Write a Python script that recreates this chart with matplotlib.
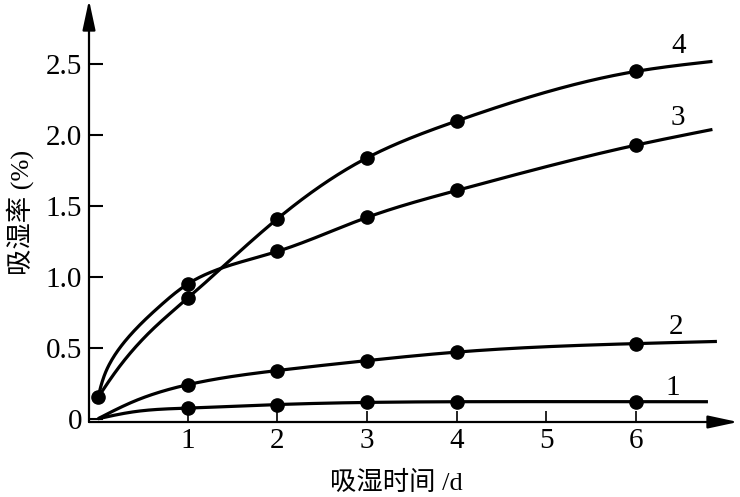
import numpy as np
import matplotlib
matplotlib.use("Agg")
import matplotlib.pyplot as plt
from matplotlib.patches import ArrowStyle

# ---------------- data ----------------
days = [1, 2, 3, 4, 6]
x_ticks = [1, 2, 3, 4, 5, 6]
y_ticks = [0, 0.5, 1.0, 1.5, 2.0, 2.5]
y_tick_labels = ["0", "0.5", "1.0", "1.5", "2.0", "2.5"]

start_t = 0.0
start_val_34 = 0.15          # common starting point of curves 3 and 4

c1 = [0.075, 0.10, 0.115, 0.12, 0.12]
c2 = [0.24, 0.34, 0.41, 0.47, 0.53]
c3 = [0.95, 1.18, 1.42, 1.61, 1.93]
c4 = [0.85, 1.41, 1.84, 2.10, 2.45]

# extra points read along the drawn (fitted) curves
c1_trace_t = [0.0, 0.41, 6.8]
c1_trace_v = [0.0, 0.05, 0.12]
c2_trace_t = [0.0, 0.41, 6.9]
c2_trace_v = [0.0, 0.125, 0.545]
c3_trace_t = [0.08, 0.36, 0.70, 6.85]
c3_trace_v = [0.32, 0.59, 0.80, 2.04]
c4_trace_t = [0.23, 0.60, 6.85]
c4_trace_v = [0.36, 0.625, 2.52]

curve_names = ["1", "2", "3", "4"]

x_label = "吸湿时间 /d"
y_label = "吸湿率 (%)"

XMIN, XMAX = -0.1, 7.135
YMIN, YMAX = -0.023, 2.953


# ---------------- helpers ----------------
def natural_spline(s, y, ss):
    s = np.asarray(s, float)
    y = np.asarray(y, float)
    n = len(s)
    h = np.diff(s)
    d = np.diff(y) / h
    A = np.zeros((n, n))
    r = np.zeros(n)
    A[0, 0] = A[-1, -1] = 1.0
    for i in range(1, n - 1):
        A[i, i - 1] = h[i - 1]
        A[i, i] = 2 * (h[i - 1] + h[i])
        A[i, i + 1] = h[i]
        r[i] = 6 * (d[i] - d[i - 1])
    M = np.linalg.solve(A, r)
    idx = np.clip(np.searchsorted(s, ss) - 1, 0, n - 2)
    a = s[idx + 1] - ss
    b = ss - s[idx]
    hi = h[idx]
    return (M[idx] * a**3 / (6 * hi) + M[idx + 1] * b**3 / (6 * hi)
            + (y[idx] / hi - M[idx] * hi / 6) * a
            + (y[idx + 1] / hi - M[idx + 1] * hi / 6) * b)


def smooth_curve(t, v, sx=89.7, sy=141.8, num=500):
    t = np.asarray(t, float)
    v = np.asarray(v, float)
    o = np.argsort(t)
    t, v = t[o], v[o]
    px, py = t * sx, v * sy
    chord = np.hypot(np.diff(px), np.diff(py))
    s = np.concatenate([[0], np.cumsum(chord)])
    ss = np.linspace(0, s[-1], num)
    return natural_spline(s, t, ss), natural_spline(s, v, ss)


# ---------------- figure ----------------
W, H = 740, 497
fig = plt.figure(figsize=(W / 100, H / 100), dpi=100)
ax = fig.add_axes([89 / W, 75 / H, 649 / W, 422 / H])
ax.set_xlim(XMIN, XMAX)
ax.set_ylim(YMIN, YMAX)
for s in ax.spines.values():
    s.set_visible(False)

serif = "Liberation Serif"
lw = 2.3
ms = 9.5

curves = [
    (c1_trace_t, c1_trace_v, c1, False),
    (c2_trace_t, c2_trace_v, c2, False),
    (c3_trace_t, c3_trace_v, c3, True),
    (c4_trace_t, c4_trace_v, c4, True),
]
for tt, tv, vals, has_start in curves:
    kt = list(days) + list(tt)
    kv = list(vals) + list(tv)
    if has_start:
        kt.append(start_t)
        kv.append(start_val_34)
    xs, ys = smooth_curve(kt, kv)
    ax.plot(xs, ys, color="black", lw=lw, solid_capstyle="butt", zorder=3)
    ax.plot(days, vals, "o", color="black", ms=ms, zorder=4)
ax.plot([start_t], [start_val_34], "o", color="black", ms=ms, zorder=4)

# curve numbers
label_pos = [(6.41, 0.217), (6.44, 0.647), (6.46, 2.12), (6.47, 2.63)]
for name, (lx, ly) in zip(curve_names, label_pos):
    ax.text(lx, ly, name, fontsize=21, family=serif, ha="center",
            va="center")

# axes with arrows
arrow = ArrowStyle("-|>", head_length=1.3, head_width=0.28)
ax.annotate("", xy=(1, 0), xytext=(0, 0), xycoords="axes fraction",
            arrowprops=dict(arrowstyle=arrow, lw=1.6, color="black",
                            mutation_scale=14, shrinkA=0, shrinkB=0),
            annotation_clip=False)
ax.annotate("", xy=(0, 1), xytext=(0, 0), xycoords="axes fraction",
            arrowprops=dict(arrowstyle=arrow, lw=1.6, color="black",
                            mutation_scale=14, shrinkA=0, shrinkB=0),
            annotation_clip=False)

ax.set_xticks(x_ticks)
ax.set_xticklabels([str(v) for v in x_ticks])
ax.set_yticks(y_ticks)
ax.set_yticklabels(y_tick_labels)
ax.tick_params(axis="x", direction="in", length=8, width=1.2, pad=4,
               labelsize=21)
ax.tick_params(axis="y", direction="in", length=10, width=1.5, pad=5,
               labelsize=21)
for lab in ax.get_xticklabels() + ax.get_yticklabels():
    lab.set_family(serif)

fig.text(396 / W, 1 - 483 / H, x_label, fontsize=19,
         family=[serif, "Noto Sans CJK SC"], ha="center", va="center")
fig.text(20 / W, 1 - 212 / H, y_label, fontsize=19, rotation=90,
         family=[serif, "Noto Sans CJK SC"], ha="center", va="center")

fig.savefig("out.png", dpi=100)
